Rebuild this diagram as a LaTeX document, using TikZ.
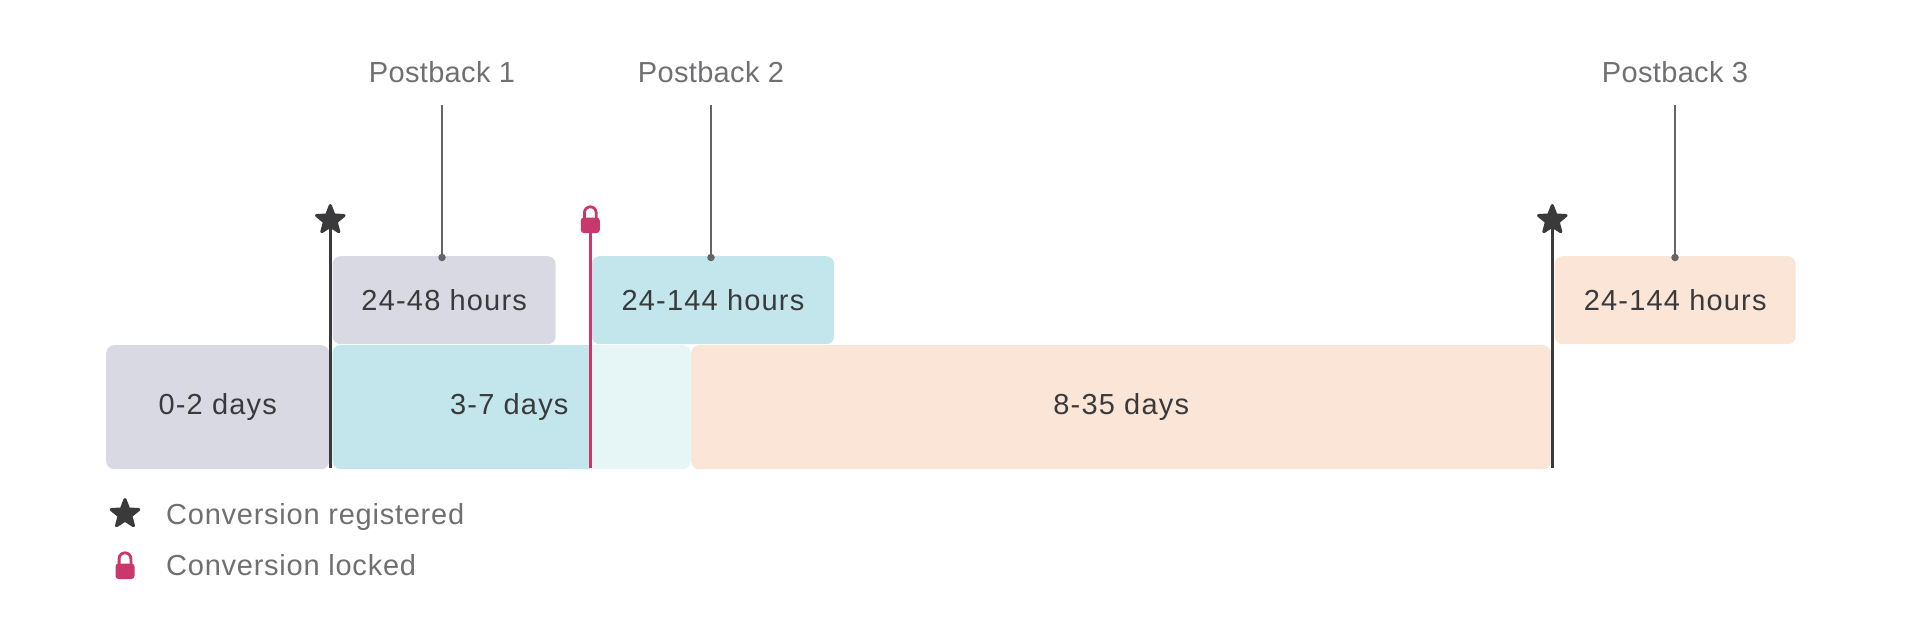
\documentclass[tikz,border=0pt]{standalone}
\usepackage{fontspec}
\setmainfont{Liberation Sans}
\newfontfamily\blockfont[LetterSpace=4.1]{Liberation Sans}
\newfontfamily\postfont[LetterSpace=1.2]{Liberation Sans}
\newfontfamily\legfont[LetterSpace=2.6]{Liberation Sans}
\usetikzlibrary{calc}
\definecolor{lav}{HTML}{D9D9E3}
\definecolor{teal}{HTML}{C2E6EB}
\definecolor{lteal}{HTML}{E6F5F6}
\definecolor{peach}{HTML}{FAE5D6}
\definecolor{ink}{HTML}{3A3A3C}
\definecolor{grey}{HTML}{707073}
\definecolor{rose}{HTML}{C9386C}
\newcommand{\starshape}[3]{% x, y, radius
  \fill[ink,draw=ink,line width=3pt,line join=round]
  ($(#1,#2)+(270:#3)$)
  \foreach \a/\r in {306/0.43,342/1,18/0.43,54/1,90/0.43,126/1,162/0.43,198/1,234/0.43}{ -- ($(#1,#2)+(\a:{#3*\r})$)} -- cycle;}
\newcommand{\lockshape}[3]{% x, bottom y, colour
  \draw[#3,line width=2.8pt] (#1-5.9,#2-14) -- (#1-5.9,#2-20.3) arc[start angle=180,end angle=360,radius=5.9] -- (#1+5.9,#2-14);
  \fill[#3,rounded corners=3pt] (#1-9.5,#2-15.5) rectangle (#1+9.5,#2);}
\tikzset{
  x=1pt,y=-1pt,
  block/.style={anchor=north west,rounded corners=8pt,inner sep=0pt,text=ink,font=\fontsize{29}{34}\blockfont},
  lab/.style={text=grey,font=\fontsize{29}{34}\legfont,inner sep=0pt},
  labbox/.style={text=grey,inner sep=0pt,font=\fontsize{29}{34}\postfont,text height=21pt,text depth=22.5pt},
  reg/.style={ink,line width=2.6pt},
  locked/.style={rose,line width=2.4pt},
  callout/.style={draw=grey!90!black,line width=2.4pt},
  pin/.style={circle,fill=grey!90!black,inner sep=0pt,minimum size=7.5pt}
}
\begin{document}
\begin{tikzpicture}
\useasboundingbox (0,0) rectangle (1920,637);
% lower row
\node[block,fill=lav,minimum width=223pt,minimum height=124pt] (a) at (106,345) {0-2 days};
\node[block,fill=lteal,minimum width=358pt,minimum height=124pt] (blight) at (332.5,345) {};
\fill[teal,rounded corners=8pt] (332.5,345) rectangle (600,469);
\fill[lteal] (590,345) rectangle (610,469);
\node[block,anchor=center] (b) at ($(blight.center)+(-2.4,0)$) {3-7 days};
\node[block,fill=peach,minimum width=860pt,minimum height=124pt] (c) at (691,345) {8-35 days};
% upper row
\node[block,fill=lav,minimum width=223pt,minimum height=88pt] (p1) at (332.5,256) {24-48 hours};
\node[block,fill=teal,minimum width=242.5pt,minimum height=88pt] (p2) at (591.5,256) {24-144 hours};
\node[block,fill=peach,minimum width=241pt,minimum height=88pt] (p3) at (1554.5,256) {24-144 hours};
% postback labels
\node[labbox,anchor=south] (l1) at (442,105) {Postback 1};
\node[labbox,anchor=south] (l2) at (711,105) {Postback 2};
\node[labbox,anchor=south] (l3) at (1675,105) {Postback 3};
\foreach \l/\p in {l1/p1,l2/p2,l3/p3}{
  \coordinate (e\l) at ($(\l.south |- \p.north)+(0,1.5)$);
  \draw[callout] (\l.south) -- (e\l);
  \node[pin] at (e\l) {};
}
% markers
\coordinate (s1) at (330.3,228);
\coordinate (s1b) at (330.3,468);
\coordinate (k1) at (590.3,232);
\coordinate (k1b) at (590.3,468);
\coordinate (s2) at (1552.3,228);
\coordinate (s2b) at (1552.3,468);
\draw[reg] (s1) -- (s1b);
\draw[locked] (k1) -- (k1b);
\draw[reg] (s2) -- (s2b);
\starshape{330.3}{220}{14.5}
\starshape{1552.3}{220}{14.5}
\lockshape{590.3}{233}{rose}
% legend
\starshape{125}{514}{14.5}
\lockshape{125}{579}{rose}
\node[lab,anchor=base west] (t1) at (166,524) {Conversion registered};
\node[lab,anchor=base west] (t2) at (166,575) {Conversion locked};
\end{tikzpicture}
\end{document}
